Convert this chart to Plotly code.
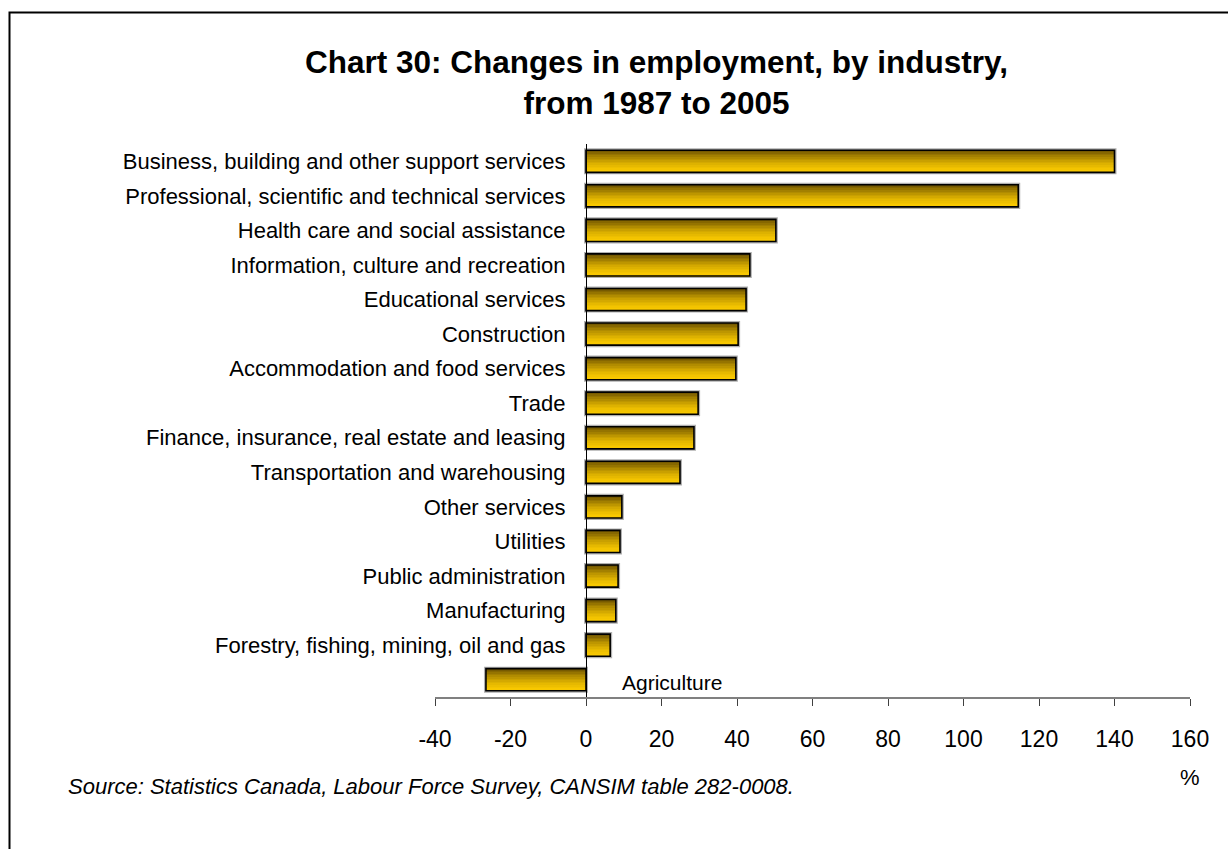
import plotly.graph_objects as go

# Industries listed top to bottom, with percentage change in employment 1987-2005
industries = [
    "Business, building and other support services",
    "Professional, scientific and technical services",
    "Health care and social assistance",
    "Information, culture and recreation",
    "Educational services",
    "Construction",
    "Accommodation and food services",
    "Trade",
    "Finance, insurance, real estate and leasing",
    "Transportation and warehousing",
    "Other services",
    "Utilities",
    "Public administration",
    "Manufacturing",
    "Forestry, fishing, mining, oil and gas",
    "Agriculture",
]
changes = [140.0, 114.5, 50.3, 43.4, 42.4, 40.3, 39.7, 29.7, 28.6, 24.9,
           9.5, 9.0, 8.5, 7.9, 6.4, -26.5]
x_ticks = [-40, -20, 0, 20, 40, 60, 80, 100, 120, 140, 160]

title_text = "<b>Chart 30: Changes in employment, by industry,<br>from 1987 to 2005</b>"
source_text = "<i>Source: Statistics Canada, Labour Force Survey, CANSIM table 282-0008.</i>"

W, H = 1228, 849
L, R, T, B = 435, 38, 144, 152
plot_w = W - L - R
plot_h = H - T - B

n = len(industries)
pos = [n - 1 - i for i in range(n)]  # top row gets the highest position
bar_h = 0.64

FONT = "Liberation Sans, Arial, sans-serif"

fig = go.Figure()

# soft grey halo behind each bar
fig.add_trace(go.Bar(
    y=pos, x=changes, orientation="h", width=bar_h,
    marker=dict(color="rgba(0,0,0,0)", line=dict(color="#b0b0b0", width=4)),
    hoverinfo="skip", showlegend=False,
))

# vertical gradient: horizontal stripes from bright gold (bottom) to dark olive (top)
N = 14
c_bottom = (250, 202, 0)
c_top = (118, 90, 0)
for i in range(N):
    t = i / (N - 1)
    t = t ** 1.6
    col = tuple(round(c_bottom[k] + (c_top[k] - c_bottom[k]) * t) for k in range(3))
    fig.add_trace(go.Bar(
        y=pos, x=changes, orientation="h",
        width=bar_h / N + 0.004,
        offset=-bar_h / 2 + i * bar_h / N,
        marker=dict(color="rgb(%d,%d,%d)" % col, line=dict(width=0)),
        hoverinfo="skip", showlegend=False,
    ))

# black outline
fig.add_trace(go.Bar(
    y=pos, x=changes, orientation="h", width=bar_h,
    marker=dict(color="rgba(0,0,0,0)", line=dict(color="#000000", width=1.6)),
    hovertemplate="%{text}: %{x}%<extra></extra>", text=industries,
    textposition="none", showlegend=False,
))

tick_labels = [name if v >= 0 else "" for name, v in zip(industries, changes)]

fig.update_layout(
    width=W, height=H,
    margin=dict(l=L, r=R, t=T, b=B),
    paper_bgcolor="white", plot_bgcolor="white",
    barmode="overlay",
    font=dict(family=FONT, color="#000000"),
    xaxis=dict(
        range=[-40, 160], tickvals=x_ticks, ticktext=[str(v) for v in x_ticks],
        showgrid=False, zeroline=False,
        showline=True, linecolor="#808080", linewidth=1.5,
        ticks="outside", ticklen=7, tickwidth=1.2, tickcolor="#404040",
        tickfont=dict(size=23, family=FONT), ticklabelstandoff=14,
        fixedrange=True,
    ),
    yaxis=dict(
        range=[-0.5, n - 0.5], tickvals=pos, ticktext=tick_labels,
        anchor="free", position=40 / 200,
        showgrid=False, zeroline=False,
        showline=True, linecolor="#000000", linewidth=1.2,
        ticks="", tickfont=dict(size=22, family=FONT), ticklabelstandoff=16,
        fixedrange=True,
    ),
)

annotations = [
    dict(text=title_text, xref="paper", yref="paper",
         x=(656 - L) / plot_w, y=(H - B - 83) / plot_h,
         xanchor="center", yanchor="middle", showarrow=False,
         font=dict(size=31.5, family=FONT)),
    # label for the negative bar sits right of the zero line
    dict(text=industries[-1], xref="x", yref="y", x=9, y=pos[-1],
         xanchor="left", yanchor="middle", showarrow=False, yshift=-3,
         font=dict(size=21, family=FONT)),
    dict(text="%", xref="paper", yref="paper",
         x=(1190 - L) / plot_w, y=(H - B - 777) / plot_h,
         xanchor="center", yanchor="middle", showarrow=False,
         font=dict(size=22, family=FONT)),
    dict(text=source_text, xref="paper", yref="paper",
         x=(66 - L) / plot_w, y=(H - B - 786) / plot_h,
         xanchor="left", yanchor="middle", showarrow=False,
         font=dict(size=22, family=FONT)),
]
fig.update_layout(annotations=annotations)

# outer frame (right and bottom edges fall outside the page)
fig.add_shape(type="rect", xref="paper", yref="paper",
              x0=(9.5 - L) / plot_w, x1=(1245 - L) / plot_w,
              y0=(H - B - 870) / plot_h, y1=(H - B - 12.5) / plot_h,
              line=dict(color="#000000", width=2), fillcolor="rgba(0,0,0,0)",
              layer="above")

fig.write_html("out.html")
